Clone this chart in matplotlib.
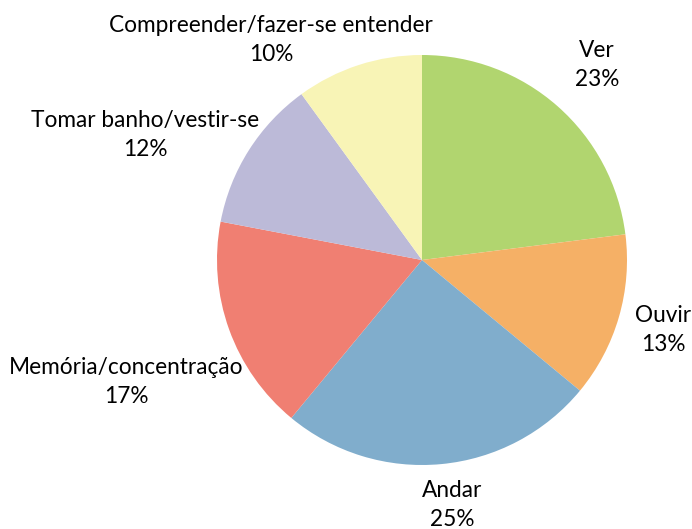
import matplotlib
matplotlib.use("Agg")
import matplotlib.pyplot as plt
import numpy as np

# dificuldades (percentual)
categorias = ["Ver", "Ouvir", "Andar", "Memória/concentração",
              "Tomar banho/vestir-se", "Compreender/fazer-se entender"]
valores = [23, 13, 25, 17, 12, 10]
cores = ["#b1d56f", "#f5b066", "#80adcc", "#f07f72", "#bcbad8", "#f8f4b6"]

# label offsets (pie radius units)
label_pos = [(0.854, 0.951), (1.176, -0.341), (0.146, -1.195),
             (-1.444, -0.595), (-1.351, 0.610), (-0.737, 1.073)]

plt.rcParams['font.family'] = ['Lato', 'DejaVu Sans']

fig = plt.figure(figsize=(6.92, 5.29), dpi=100)
ax = fig.add_axes([217/692, 1 - 465/529, 410/692, 410/529])

ax.pie(valores, colors=cores, startangle=90, counterclock=False, radius=1)
ax.set_xlim(-1, 1)
ax.set_ylim(-1, 1)
ax.set_aspect('equal')
ax.axis('off')

for cat, v, (x, y) in zip(categorias, valores, label_pos):
    ax.text(x, y, f"{cat}\n{v}%", ha='center', va='center',
            fontsize=16.3, linespacing=1.45, clip_on=False, color='black')

fig.savefig("out.png", dpi=100)
